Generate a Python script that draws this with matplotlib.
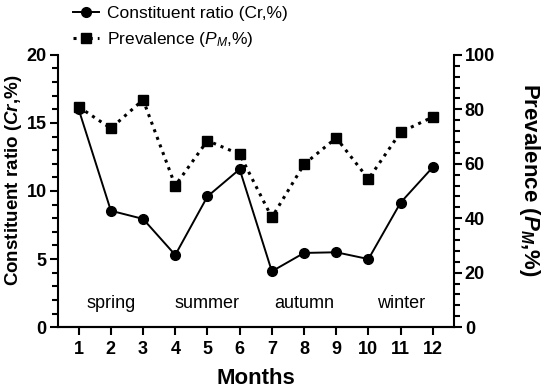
import matplotlib
matplotlib.use("Agg")
import matplotlib.pyplot as plt
from matplotlib.ticker import MultipleLocator

plt.rcParams["font.family"] = ["Liberation Sans", "DejaVu Sans"]
plt.rcParams["mathtext.fontset"] = "custom"
plt.rcParams["mathtext.rm"] = "Liberation Sans"
plt.rcParams["mathtext.it"] = "Liberation Sans:italic"
plt.rcParams["mathtext.bf"] = "Liberation Sans:bold"
plt.rcParams["mathtext.bfit"] = "Liberation Sans:bold:italic"

months = [1, 2, 3, 4, 5, 6, 7, 8, 9, 10, 11, 12]
cr = [16.0, 8.55, 7.95, 5.3, 9.6, 11.6, 4.1, 5.45, 5.5, 5.0, 9.15, 11.75]
prevalence = [80.9, 73.0, 83.5, 52.0, 68.5, 63.5, 40.3, 59.8, 69.5, 54.4, 71.6, 77.2]
seasons = ["spring", "summer", "autumn", "winter"]
season_pos = [2, 5, 8, 11]

fig = plt.figure(figsize=(5.5, 3.89), dpi=100)
ax = fig.add_axes([0.105, 0.159, 0.72, 0.70])
ax2 = ax.twinx()

l1, = ax.plot(months, cr, "-o", color="black", lw=1.4, ms=7, label="Constituent ratio (Cr,%)")
l2, = ax2.plot(months, prevalence, ":s", color="black", lw=2.2, ms=7,
               label="Prevalence ($\\mathit{P_M}$,%)")

ax.set_xlim(0.35, 12.65)
ax.set_ylim(0, 20)
ax2.set_ylim(0, 100)
ax.set_xticks(months)
ax.yaxis.set_major_locator(MultipleLocator(5))
ax.yaxis.set_minor_locator(MultipleLocator(1))
ax2.yaxis.set_major_locator(MultipleLocator(20))
ax2.yaxis.set_minor_locator(MultipleLocator(4))

for a in (ax, ax2):
    a.spines["top"].set_visible(False)
    for s in a.spines.values():
        s.set_linewidth(1.5)
    a.tick_params(which="major", length=6, width=1.5, labelsize=13, pad=2)
    a.tick_params(which="minor", length=4, width=1.5)
    for lab in a.get_xticklabels() + a.get_yticklabels():
        lab.set_fontweight("bold")
ax.spines["right"].set_visible(False)
ax2.spines["left"].set_visible(False)
ax.tick_params(axis="x", pad=4)

for name, x in zip(seasons, season_pos):
    ax.text(x, 1.75, name, ha="center", va="center", fontsize=13)

ax.set_xlabel("Months", fontsize=16, fontweight="bold", labelpad=7)
ax.set_ylabel("Constituent ratio ($\\bfit{Cr}$,%)", fontsize=13.5, fontweight="bold")
ax.yaxis.set_label_coords(-0.085, 0.54)
ax2.set_ylabel("Prevalence ($\\bfit{P_M}$,%)", fontsize=16, fontweight="bold",
               rotation=-90)
ax2.yaxis.set_label_coords(1.223, 0.54)

fig.legend(handles=[l1, l2], loc="upper left", bbox_to_anchor=(0.105, 1.025),
           frameon=False, fontsize=12.5, handlelength=1.5, handletextpad=0.45,
           labelspacing=0.5)

fig.savefig("out.png", dpi=100)
